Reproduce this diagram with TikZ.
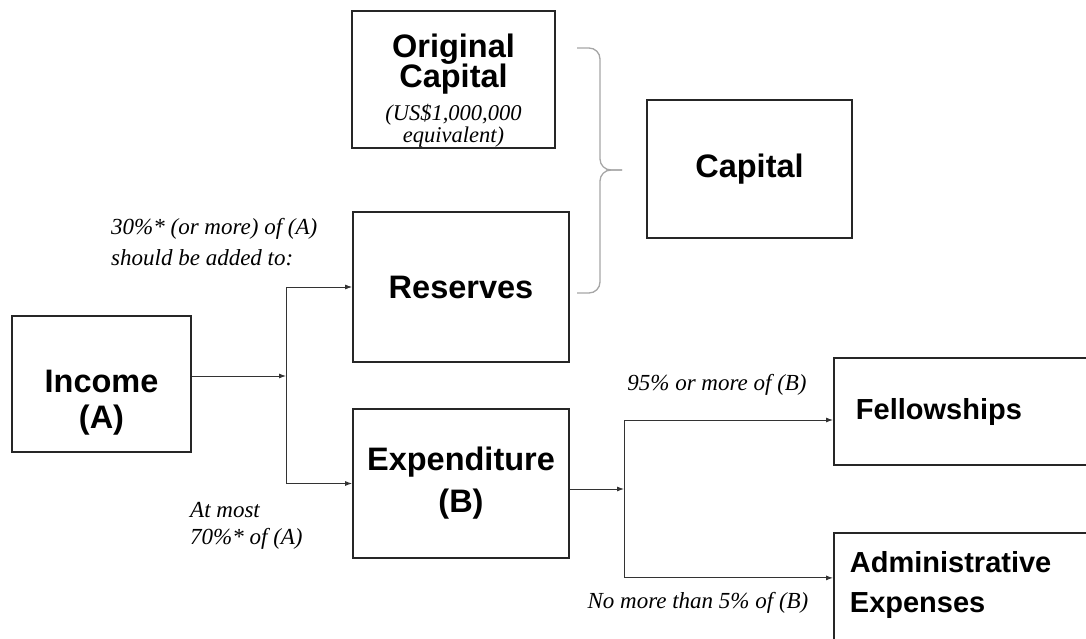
\documentclass[tikz,border=0pt]{standalone}
\usepackage{fontspec}
\setmainfont{Liberation Serif}
\setsansfont{Liberation Sans}
\usetikzlibrary{positioning,arrows.meta}
\newcommand{\smallit}[1]{{\normalfont\itshape\fontsize{22.5}{20}\selectfont #1}}
\newcommand{\tightlines}{\lineskiplimit=-50pt\relax}

\begin{document}
\begin{tikzpicture}[x=1pt,y=-1pt,>={Latex[length=7pt,width=5pt]},
				box/.style={draw=black!85,line width=1.8pt,rectangle,inner sep=0pt,align=center,
					font=\sffamily\bfseries\fontsize{32.5}{36}\selectfont},
				note/.style={inner sep=0pt,align=left,font=\itshape\fontsize{23}{31}\selectfont},
				link/.style={draw=black!80,line width=0.9pt},
				curly/.style={draw=black!35,line width=1.3pt,rounded corners=11pt}]
				\useasboundingbox (0,0) rectangle (1086,639);
				\clip (0,0) rectangle (1086,639);
				\node (orig) [box,minimum width=203,minimum height=137,
					font=\sffamily\bfseries\fontsize{32.5}{30}\selectfont\tightlines] at (453.5,79.5)
					{\rule{0pt}{46pt}Original\\Capital\\[3pt]\smallit{(US\$1,000,000}\\[-8pt]\smallit{equivalent)}};
				\node (cap)  [box,minimum width=205,minimum height=138] at (749.5,169) {Capital};
				\node (res)  [box,minimum width=216,minimum height=150] at (461,287) {Reserves};
				\node (inc)  [box,minimum width=179,minimum height=136] at (101.5,384) {\rule{0pt}{59pt}Income\\(A)};
				\node (exp)  [box,minimum width=216,minimum height=149,
					font=\sffamily\bfseries\fontsize{32.5}{42}\selectfont] at (461,483.5) {Expenditure\\(B)};
				\node (fel)  [box,anchor=west,minimum width=290,minimum height=107,text width=246,inner xsep=22,align=left,
					font=\sffamily\bfseries\fontsize{29}{40}\selectfont] at (833,411.5) {Fellowships};
				\node (adm)  [box,anchor=north west,minimum width=290,minimum height=130,text width=258,inner xsep=16,align=left,
					font=\sffamily\bfseries\fontsize{29}{40}\selectfont] at (833,532) {Administrative\\Expenses\rule[-32pt]{0pt}{32pt}};

				\node (resnote) [note,anchor=north west] at (111,218) {30\%* (or more) of (A)\\should be added to:};
				\node (expnote) [note,anchor=north west,font=\itshape\fontsize{23}{27}\selectfont] at (190,502) {At most\\70\%* of (A)};
				\node (felnote) [note] at (717,385) {95\% or more of (B)};
				\node (admnote) [note] at (698,603) {No more than 5\% of (B)};

				\coordinate (split) at (286,376);
				\coordinate (join)  at (624,489);
				\coordinate (felin) at ([yshift=-8.5]fel.west);
				\coordinate (admin) at ([yshift=20]adm.west);

				\draw[link,->]  ([yshift=8]inc.east) -- (split);
				\draw[link,<->] (res.west) -- (split |- res.west) -- (split |- exp.west) -- (exp.west);
				\draw[link,->]  ([yshift=-5.5]exp.east) -- (join);
				\draw[link,<->] (felin) -- (join |- felin) -- (join |- admin) -- (admin);
				% brace joining the two parts of the capital
				\draw[curly] (577,48) -- (600,48) -- (600,170) -- (622,170);
				\draw[curly] (622,170) -- (600,170) -- (600,293) -- (577,293);
			\end{tikzpicture}
\end{document}
